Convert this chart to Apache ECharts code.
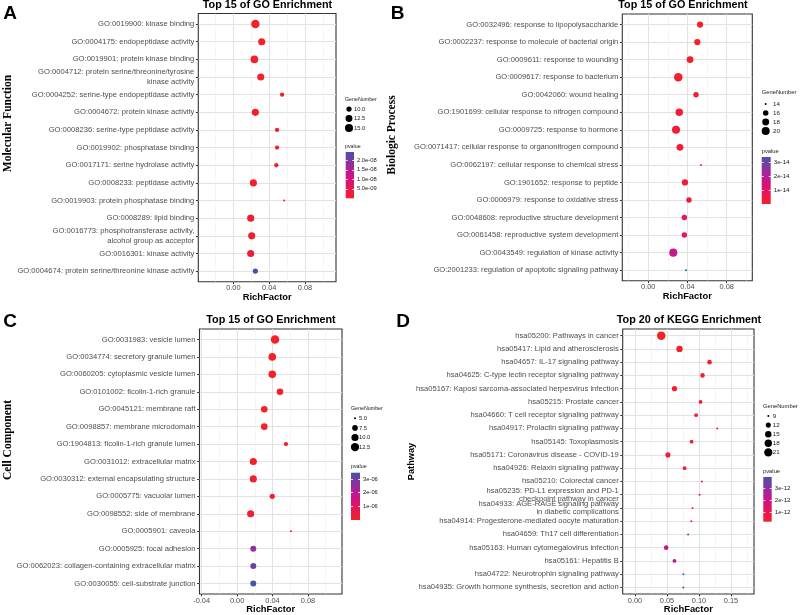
<!DOCTYPE html>
<html><head><meta charset="utf-8">
<script src="https://cdn.jsdelivr.net/npm/echarts@6/dist/echarts.min.js"></script>
<style>html,body{margin:0;padding:0;background:#fff}#c{width:800px;height:615px}</style>
</head><body><div id="c"></div>
<script>
// ---------------- DATA ----------------
const panelLetters = ['A', 'B', 'C', 'D'];
const panelTitles = ['Top 15 of GO Enrichment', 'Top 15 of GO Enrichment', 'Top 15 of GO Enrichment', 'Top 20 of KEGG Enrichment'];
const yTitles = ['Molecular Function', 'Biologic Process', 'Cell Component', 'Pathway'];
const xTitle = 'RichFactor';
const sizeTitle = 'GeneNumber';
const colorTitle = 'pvalue';

// Panel A - Molecular Function
const labelsA = [
  'GO:0019900: kinase binding',
  'GO:0004175: endopeptidase activity',
  'GO:0019901: protein kinase binding',
  'GO:0004712: protein serine/threonine/tyrosine\nkinase activity',
  'GO:0004252: serine-type endopeptidase activity',
  'GO:0004672: protein kinase activity',
  'GO:0008236: serine-type peptidase activity',
  'GO:0019902: phosphatase binding',
  'GO:0017171: serine hydrolase activity',
  'GO:0008233: peptidase activity',
  'GO:0019903: protein phosphatase binding',
  'GO:0008289: lipid binding',
  'GO:0016773: phosphotransferase activity,\nalcohol group as acceptor',
  'GO:0016301: kinase activity',
  'GO:0004674: protein serine/threonine kinase activity'
];
const richA = [0.0246, 0.0317, 0.0235, 0.0306, 0.0544, 0.0246, 0.0488, 0.0488, 0.0480, 0.0224, 0.0567, 0.0194, 0.0205, 0.0194, 0.0246];
const geneA = [16, 13, 14, 13, 9, 13, 9, 9, 9, 13, 8, 13, 13, 13, 10];
const pA = [1.2e-11, 5.3e-11, 9.8e-11, 2.1e-10, 3.4e-10, 4.6e-10, 5.9e-10, 6.8e-10, 7.7e-10, 9.2e-10, 1.1e-9, 1.3e-9, 1.6e-9, 1.9e-9, 2.44e-8];
const xTicksA = [0, 0.04, 0.08];
const xTickLabelsA = ['0.00', '0.04', '0.08'];
const xMinorA = [-0.02, 0.02, 0.06, 0.10];
const sizeBreaksA = [10, 12.5, 15];
const sizeBreakLabelsA = ['10.0', '12.5', '15.0'];
const pBreaksA = [5e-9, 1e-8, 1.5e-8, 2e-8];
const pBreakLabelsA = ['5.0e-09', '1.0e-08', '1.5e-08', '2.0e-08'];

// Panel B - Biologic Process
const labelsB = [
  'GO:0032496: response to lipopolysaccharide',
  'GO:0002237: response to molecule of bacterial origin',
  'GO:0009611: response to wounding',
  'GO:0009617: response to bacterium',
  'GO:0042060: wound healing',
  'GO:1901699: cellular response to nitrogen compound',
  'GO:0009725: response to hormone',
  'GO:0071417: cellular response to organonitrogen compound',
  'GO:0062197: cellular response to chemical stress',
  'GO:1901652: response to peptide',
  'GO:0006979: response to oxidative stress',
  'GO:0048608: reproductive structure development',
  'GO:0061458: reproductive system development',
  'GO:0043549: regulation of kinase activity',
  'GO:2001233: regulation of apoptotic signaling pathway'
];
const richB = [0.0528, 0.0500, 0.0426, 0.0306, 0.0487, 0.0316, 0.0283, 0.0323, 0.0538, 0.0374, 0.0415, 0.0368, 0.0368, 0.0255, 0.0385];
const geneB = [17, 17, 18, 21, 16, 19, 20, 18, 14, 17, 16, 16, 16, 20, 14];
const pB = [1.5e-16, 3.2e-16, 6.1e-16, 9.4e-16, 1.4e-15, 2.0e-15, 2.6e-15, 3.0e-15, 3.3e-15, 3.6e-15, 4.2e-15, 7.6e-15, 8.1e-15, 1.75e-14, 3.36e-14];
const xTicksB = [0, 0.04, 0.08];
const xTickLabelsB = ['0.00', '0.04', '0.08'];
const xMinorB = [-0.02, 0.02, 0.06, 0.10];
const sizeBreaksB = [14, 16, 18, 20];
const sizeBreakLabelsB = ['14', '16', '18', '20'];
const pBreaksB = [1e-14, 2e-14, 3e-14];
const pBreakLabelsB = ['1e-14', '2e-14', '3e-14'];

// Panel C - Cell Component
const labelsC = [
  'GO:0031983: vesicle lumen',
  'GO:0034774: secretory granule lumen',
  'GO:0060205: cytoplasmic vesicle lumen',
  'GO:0101002: ficolin-1-rich granule',
  'GO:0045121: membrane raft',
  'GO:0098857: membrane microdomain',
  'GO:1904813: ficolin-1-rich granule lumen',
  'GO:0031012: extracellular matrix',
  'GO:0030312: external encapsulating structure',
  'GO:0005775: vacuolar lumen',
  'GO:0098552: side of membrane',
  'GO:0005901: caveola',
  'GO:0005925: focal adhesion',
  'GO:0062023: collagen-containing extracellular matrix',
  'GO:0030055: cell-substrate junction'
];
const richC = [0.0428, 0.0397, 0.0397, 0.0484, 0.0307, 0.0307, 0.0552, 0.0183, 0.0183, 0.0397, 0.0153, 0.0608, 0.0183, 0.0183, 0.0183];
const geneC = [13, 11, 11, 9, 9, 9, 6, 10, 10, 7, 10, 5, 8, 8, 8];
const pC = [1.1e-9, 3.5e-9, 6.0e-9, 1.2e-8, 2.3e-8, 3.1e-8, 5.0e-8, 7.4e-8, 9.0e-8, 1.3e-7, 1.8e-7, 8.6e-7, 2.55e-6, 3.05e-6, 3.46e-6];
const xTicksC = [-0.04, 0, 0.04, 0.08];
const xTickLabelsC = ['-0.04', '0.00', '0.04', '0.08'];
const xMinorC = [-0.02, 0.02, 0.06, 0.10];
const sizeBreaksC = [5, 7.5, 10, 12.5];
const sizeBreakLabelsC = ['5.0', '7.5', '10.0', '12.5'];
const pBreaksC = [1e-6, 2e-6, 3e-6];
const pBreakLabelsC = ['1e-06', '2e-06', '3e-06'];

// Panel D - KEGG Pathway
const labelsD = [
  'hsa05200: Pathways in cancer',
  'hsa05417: Lipid and atherosclerosis',
  'hsa04657: IL-17 signaling pathway',
  'hsa04625: C-type lectin receptor signaling pathway',
  'hsa05167: Kaposi sarcoma-associated herpesvirus infection',
  'hsa05215: Prostate cancer',
  'hsa04660: T cell receptor signaling pathway',
  'hsa04917: Prolactin signaling pathway',
  'hsa05145: Toxoplasmosis',
  'hsa05171: Coronavirus disease - COVID-19',
  'hsa04926: Relaxin signaling pathway',
  'hsa05210: Colorectal cancer',
  'hsa05235: PD-L1 expression and PD-1\ncheckpoint pathway in cancer',
  'hsa04933: AGE-RAGE signaling pathway\nin diabetic complications',
  'hsa04914: Progesterone-mediated oocyte maturation',
  'hsa04659: Th17 cell differentiation',
  'hsa05163: Human cytomegalovirus infection',
  'hsa05161: Hepatitis B',
  'hsa04722: Neurotrophin signaling pathway',
  'hsa04935: Growth hormone synthesis, secretion and action'
];
const richD = [0.0410, 0.0696, 0.1165, 0.1055, 0.0617, 0.1025, 0.0955, 0.1285, 0.0885, 0.0515, 0.0775, 0.1045, 0.1010, 0.0900, 0.0880, 0.0830, 0.0487, 0.0617, 0.0756, 0.0756];
const geneD = [22, 15, 11, 11, 12, 10, 10, 9, 10, 12, 10, 9, 9, 9, 9, 9, 11, 10, 9, 9];
const pD = [1.5e-13, 1.9e-13, 2.3e-13, 2.8e-13, 3.2e-13, 3.7e-13, 4.1e-13, 4.5e-13, 4.9e-13, 5.4e-13, 5.9e-13, 6.5e-13, 7.0e-13, 7.6e-13, 8.3e-13, 9.5e-13, 1.85e-12, 2.3e-12, 3.95e-12, 3.99e-12];
const xTicksD = [0, 0.05, 0.10, 0.15];
const xTickLabelsD = ['0.00', '0.05', '0.10', '0.15'];
const xMinorD = [0.025, 0.075, 0.125, 0.175];
const sizeBreaksD = [9, 12, 15, 18, 21];
const sizeBreakLabelsD = ['9', '12', '15', '18', '21'];
const pBreaksD = [1e-12, 2e-12, 3e-12];
const pBreakLabelsD = ['1e-12', '2e-12', '3e-12'];

// ---------------- LAYOUT / STYLE ----------------
const FONT = '"Liberation Sans", Arial, sans-serif';
const SERIF = '"Liberation Serif", "Times New Roman", serif';
const colorStops = ['#F42127', '#E41659', '#C8148C', '#8F2F9E', '#4653A7']; // low -> high
const GRID_MAJOR = '#e2e2e2';
const GRID_MINOR = '#eeeeee';

const panels = [
  { labels: labelsA, rich: richA, gene: geneA, p: pA, xMajor: xTicksA, xLab: xTickLabelsA, xMinor: xMinorA,
    sizeBreaks: sizeBreaksA, sizeLab: sizeBreakLabelsA, pBreaks: pBreaksA, pLab: pBreakLabelsA,
    grid: { left: 198.3, top: 13.5, width: 137.7, height: 268.2 }, xMin: -0.0391, xMax: 0.1146, yPad: 0.6, lh: 9.4, nameGap: 10,
    sizeLeg: { cx: 349, lx: 354, y0: 109, step: 9.5 }, cbar: { left: 345.7, top: 152, width: 8.3, height: 46.3 },
    geneTitle: [345, 99.3], pTitle: [345, 147], letter: [10, 14], title: [267.5, 5], yTitle: [8, 123.5], yFont: SERIF, ySize: 11.5, legFs: 5.3, legLabFs: 5.8 },
  { labels: labelsB, rich: richB, gene: geneB, p: pB, xMajor: xTicksB, xLab: xTickLabelsB, xMinor: xMinorB,
    sizeBreaks: sizeBreaksB, sizeLab: sizeBreakLabelsB, pBreaks: pBreaksB, pLab: pBreakLabelsB,
    grid: { left: 622.3, top: 14, width: 130, height: 266.7 }, xMin: -0.0265, xMax: 0.1061, yPad: 0.6, lh: 9.4, nameGap: 10,
    sizeLeg: { cx: 765.7, lx: 773, y0: 104, step: 9 }, cbar: { left: 761.7, top: 157, width: 9, height: 47 },
    geneTitle: [761.7, 92.3], pTitle: [761.7, 151], letter: [397.5, 14], title: [683, 5], yTitle: [392, 135], yFont: SERIF, ySize: 11.5, legFs: 5.8, legLabFs: 6.2 },
  { labels: labelsC, rich: richC, gene: geneC, p: pC, xMajor: xTicksC, xLab: xTickLabelsC, xMinor: xMinorC,
    sizeBreaks: sizeBreaksC, sizeLab: sizeBreakLabelsC, pBreaks: pBreaksC, pLab: pBreakLabelsC,
    grid: { left: 199.5, top: 329, width: 142.5, height: 266.7 }, xMin: -0.0424, xMax: 0.1184, yPad: 0.6, lh: 9.4, nameGap: 11,
    sizeLeg: { cx: 355, lx: 359, y0: 418.3, step: 9.6 }, cbar: { left: 351, top: 472.7, width: 9, height: 47.3 },
    geneTitle: [351, 408.3], pTitle: [351, 466.7], letter: [10, 321.5], title: [271, 320], yTitle: [8, 440], yFont: SERIF, ySize: 11.5, legFs: 5.3, legLabFs: 5.8 },
  { labels: labelsD, rich: richD, gene: geneD, p: pD, xMajor: xTicksD, xLab: xTickLabelsD, xMinor: xMinorD,
    sizeBreaks: sizeBreaksD, sizeLab: sizeBreakLabelsD, pBreaks: pBreaksD, pLab: pBreakLabelsD,
    grid: { left: 622.7, top: 329, width: 131.3, height: 267 }, xMin: -0.0192, xMax: 0.186, yPad: 0.5, lh: 8, nameGap: 11,
    sizeLeg: { cx: 768.3, lx: 772.7, y0: 416, step: 9.1 }, cbar: { left: 763.3, top: 477, width: 8.4, height: 44.7 },
    geneTitle: [763, 406], pTitle: [763, 471.7], letter: [403, 321.5], title: [689, 320], yTitle: [411, 461.5], yFont: FONT, ySize: 9.2, legFs: 5.8, legLabFs: 6.2 }
];

function sizeFn(n, lo, hi) { return 2 + 6.5 * Math.sqrt(Math.max(0, (n - lo) / (hi - lo))); }
function pickLabel(vals, labs) {
  return function (v) {
    for (let i = 0; i < vals.length; i++) {
      const tol = vals[i] === 0 ? 1e-9 : Math.abs(vals[i]) * 1e-6;
      if (Math.abs(vals[i] - v) <= tol) return labs[i];
    }
    return '';
  };
}

const grids = [], xAxes = [], yAxes = [], series = [], visualMaps = [], graphics = [];
const N = panels.length;

// main grids (0..3)
panels.forEach((P, i) => {
  grids.push({ left: P.grid.left, top: P.grid.top, width: P.grid.width, height: P.grid.height,
    show: true, borderColor: '#333333', borderWidth: 1.1, backgroundColor: 'transparent', containLabel: false });
});
// size legend grids (4..7)
panels.forEach((P, i) => {
  const w = 2 * (P.sizeLeg.lx - 1 - P.sizeLeg.cx);
  grids.push({ left: P.sizeLeg.cx - w / 2, top: P.sizeLeg.y0 - P.sizeLeg.step / 2, width: w,
    height: P.sizeBreaks.length * P.sizeLeg.step, show: false });
});
// colorbar grids (8..11)
panels.forEach((P, i) => {
  const stops = colorStops.slice().reverse().map((c, k) => ({ offset: k / (colorStops.length - 1), color: c }));
  grids.push({ left: P.cbar.left, top: P.cbar.top, width: P.cbar.width, height: P.cbar.height,
    show: true, borderWidth: 0, borderColor: 'transparent',
    backgroundColor: new echarts.graphic.LinearGradient(0, 0, 0, 1, stops) });
});

// main x axes (0..3)
panels.forEach((P, i) => {
  xAxes.push({ type: 'value', gridIndex: i, min: P.xMin, max: P.xMax, position: 'bottom',
    axisLine: { show: false, onZero: false },
    axisTick: { show: true, length: 2.4, lineStyle: { color: '#333', width: 1 }, customValues: P.xMajor },
    axisLabel: { customValues: P.xMajor, formatter: pickLabel(P.xMajor, P.xLab), color: '#4d4d4d', fontSize: 7.4, fontFamily: FONT, margin: 3 },
    splitLine: { show: true, lineStyle: { color: GRID_MAJOR, width: 1 } },
    name: xTitle, nameLocation: 'middle', nameGap: P.nameGap,
    nameTextStyle: { fontSize: 9.4, fontWeight: 'bold', color: '#000', fontFamily: FONT } });
});
// minor x axes (4..7)
panels.forEach((P, i) => {
  xAxes.push({ type: 'value', gridIndex: i, min: P.xMin, max: P.xMax, position: 'bottom',
    axisLine: { show: false, onZero: false }, axisTick: { show: false, customValues: P.xMinor }, axisLabel: { show: false },
    splitLine: { show: true, lineStyle: { color: GRID_MINOR, width: 0.6 } } });
});
// legend x axes (8..11)
panels.forEach((P, i) => { xAxes.push({ type: 'value', gridIndex: N + i, min: 0, max: 1, show: false, axisLine: { onZero: false } }); });
// colorbar x axes (12..15)
panels.forEach((P, i) => { xAxes.push({ type: 'value', gridIndex: 2 * N + i, min: 0, max: 1, show: false, axisLine: { onZero: false } }); });

// main y axes (0..3)
panels.forEach((P, i) => {
  const idx = P.labels.map((_, k) => k);
  yAxes.push({ type: 'value', gridIndex: i, inverse: true, min: -P.yPad, max: P.labels.length - 1 + P.yPad,
    axisLine: { show: false, onZero: false },
    axisTick: { show: true, length: 2.4, lineStyle: { color: '#333', width: 1 }, customValues: idx },
    axisLabel: { customValues: idx, formatter: v => P.labels[Math.round(v)], color: '#4d4d4d', fontSize: 7.6,
      fontFamily: FONT, margin: 4, lineHeight: P.lh, align: 'right' },
    splitLine: { show: true, lineStyle: { color: GRID_MAJOR, width: 1 } } });
});
// legend y axes (4..7)
panels.forEach((P, i) => {
  const idx = P.sizeBreaks.map((_, k) => k);
  yAxes.push({ type: 'value', gridIndex: N + i, inverse: true, min: -0.5, max: P.sizeBreaks.length - 0.5, position: 'right',
    axisLine: { show: false, onZero: false }, axisTick: { show: false, customValues: idx }, splitLine: { show: false },
    axisLabel: { customValues: idx, formatter: v => P.sizeLab[Math.round(v)], fontSize: P.legLabFs, color: '#1a1a1a', fontFamily: FONT, margin: 1 } });
});
// colorbar y axes right (8..11)
panels.forEach((P, i) => {
  yAxes.push({ type: 'value', gridIndex: 2 * N + i, min: Math.min(...P.p), max: Math.max(...P.p), position: 'right',
    axisLine: { show: false, onZero: false },
    axisTick: { show: true, inside: true, length: 2, lineStyle: { color: '#ffffff', width: 0.8 }, customValues: P.pBreaks },
    axisLabel: { customValues: P.pBreaks, formatter: pickLabel(P.pBreaks, P.pLab), fontSize: P.legLabFs, color: '#1a1a1a', fontFamily: FONT, margin: 3 },
    splitLine: { show: false } });
});
// colorbar y axes left (12..15)
panels.forEach((P, i) => {
  yAxes.push({ type: 'value', gridIndex: 2 * N + i, min: Math.min(...P.p), max: Math.max(...P.p), position: 'left',
    axisLine: { show: false, onZero: false },
    axisTick: { show: true, inside: true, length: 2, lineStyle: { color: '#ffffff', width: 0.8 }, customValues: P.pBreaks },
    axisLabel: { show: false }, splitLine: { show: false } });
});

// main series (0..3)
panels.forEach((P, i) => {
  const lo = Math.min(...P.gene), hi = Math.max(...P.gene);
  series.push({ type: 'scatter', xAxisIndex: i, yAxisIndex: i, silent: true,
    data: P.rich.map((r, k) => [r, k, P.p[k], P.gene[k]]),
    symbol: 'circle', symbolSize: val => sizeFn(val[3], lo, hi), itemStyle: { opacity: 1 } });
});
// size legend series (4..7)
panels.forEach((P, i) => {
  const lo = Math.min(...P.gene), hi = Math.max(...P.gene);
  series.push({ type: 'scatter', xAxisIndex: 2 * N + i, yAxisIndex: N + i, silent: true,
    data: P.sizeBreaks.map((b, k) => [0.5, k, b]),
    symbol: 'circle', symbolSize: val => sizeFn(val[2], lo, hi), itemStyle: { color: '#000000', opacity: 1 } });
});

panels.forEach((P, i) => {
  visualMaps.push({ type: 'continuous', show: false, seriesIndex: i, dimension: 2,
    min: Math.min(...P.p), max: Math.max(...P.p), inRange: { color: colorStops } });
});

// texts
panels.forEach((P, i) => {
  graphics.push({ type: 'text', x: P.letter[0], y: P.letter[1], silent: true,
    style: { text: panelLetters[i], fontSize: 19, fontWeight: 'bold', fontFamily: FONT, fill: '#000', align: 'center', verticalAlign: 'middle' } });
  graphics.push({ type: 'text', x: P.title[0], y: P.title[1], silent: true,
    style: { text: panelTitles[i], fontSize: 10.8, fontWeight: 'bold', fontFamily: FONT, fill: '#000', align: 'center', verticalAlign: 'middle' } });
  graphics.push({ type: 'text', x: P.yTitle[0], y: P.yTitle[1], rotation: Math.PI / 2, silent: true,
    style: { text: yTitles[i], fontSize: P.ySize, fontWeight: 'bold', fontFamily: P.yFont, fill: '#000', align: 'center', verticalAlign: 'middle' } });
  graphics.push({ type: 'text', x: P.geneTitle[0], y: P.geneTitle[1], silent: true,
    style: { text: sizeTitle, fontSize: P.legFs, fontFamily: FONT, fill: '#1a1a1a', align: 'left', verticalAlign: 'middle' } });
  graphics.push({ type: 'text', x: P.pTitle[0], y: P.pTitle[1], silent: true,
    style: { text: colorTitle, fontSize: P.legFs, fontFamily: FONT, fill: '#1a1a1a', align: 'left', verticalAlign: 'middle' } });
});

const chart = echarts.init(document.getElementById('c'), null, { renderer: 'canvas', width: 800, height: 615 });
chart.setOption({
  backgroundColor: '#ffffff',
  animation: false,
  grid: grids,
  xAxis: xAxes,
  yAxis: yAxes,
  visualMap: visualMaps,
  series: series,
  graphic: graphics
});
</script>
</body></html>
